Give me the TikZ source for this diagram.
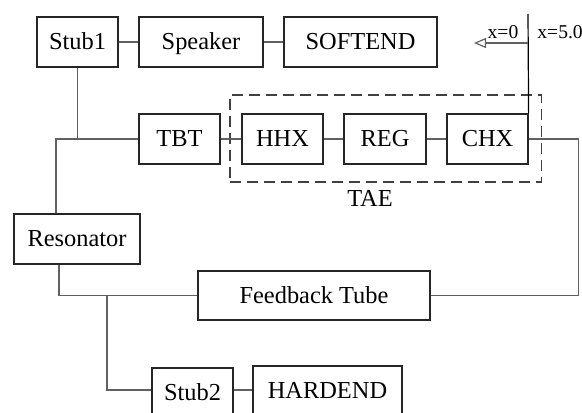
\documentclass[tikz,border=0pt]{standalone}
\usepackage{fontspec}
\setmainfont{Liberation Serif}
\usetikzlibrary{arrows.meta}
\tikzset{
  box/.style={draw=black!85, line width=0.6pt, rectangle, inner sep=0pt,
    minimum height=25pt, text height=7.9pt, text depth=0pt, font=\fontsize{12.2}{14}\selectfont},
  conn/.style={draw=black!62, line width=0.6pt},
  taebox/.style={draw=black!75, line width=0.6pt, dash pattern=on 5.5pt off 3pt, rectangle, inner sep=0pt},
  lbl/.style={font=\fontsize{12.2}{14}\selectfont, inner sep=0pt},
  small/.style={font=\fontsize{9.8}{11}\selectfont, inner sep=0pt}
}
\begin{document}
\begin{tikzpicture}[x=0.5pt,y=-0.5pt]
\useasboundingbox (0,0) rectangle (582,412);
\clip (0,0) rectangle (582,412);
% boxes
\node[box, minimum width=40.5pt] (stub1) at (77.5,42) {Stub1};
\node[box, minimum width=62pt] (speaker) at (201,42) {Speaker};
\node[box, minimum width=76.5pt] (softend) at (360.5,42) {SOFTEND};
\node[taebox, minimum width=155.85pt, minimum height=43.5pt] (tae) at (385.85,138.5) {};
\node[lbl] (taelbl) at (370,198) {TAE};
\node[box, minimum width=40.5pt] (tbt) at (179.5,139) {TBT};
\node[box, minimum width=40.5pt] (hhx) at (282.5,139) {HHX};
\node[box, minimum width=41pt] (reg) at (385,139) {REG};
\node[box, minimum width=40.5pt] (chx) at (487.5,139) {CHX};
\node[box, minimum width=63pt] (res) at (77,239) {Resonator};
\node[box, minimum width=116pt, minimum height=24.5pt] (fb) at (314,295.5) {Feedback Tube\hspace{18pt}};
\node[box, minimum width=40.5pt] (stub2) at (192.5,393) {Stub2};
\node[box, minimum width=74.5pt] (hard) at (327.5,391) {HARDEND};
% coordinate labels
\coordinate (vtop) at (528,14);
\coordinate (a1) at (528,43);
\coordinate (a0) at (474,43);
\node[small] (x0) at (503,32) {x=0};
\node[small, anchor=west] (x5) at (537,32) {x=5.0};
\draw[line width=0.6pt, black] (vtop) -- (chx.north east);
\draw[conn, -{Triangle[open, length=6pt, width=5pt]}] (a1) -- (a0);
% connectors
\draw[conn] (stub1) -- (speaker);
\draw[conn] (speaker) -- (softend);
\draw[conn] (tbt) -- (hhx);
\draw[conn] (hhx) -- (reg);
\draw[conn] (reg) -- (chx);
\draw[conn] (chx.east) -- ++(50,0) |- (fb.east);
\coordinate (j1) at (56,139);
\draw[conn] (tbt.west) -- (j1) -- (j1 |- res.north);
\draw[conn] (stub1.south) -- (stub1.south |- j1);
\draw[conn] ([xshift=-9pt]res.south) |- (fb.west);
\coordinate (j3) at (107,295.5);
\coordinate (s2w) at ([yshift=1.5pt]stub2.west);
\coordinate (s2e) at ([yshift=1.5pt]stub2.east);
\draw[conn] (j3) |- (s2w);
\draw[conn] (s2e) -- (s2e -| hard.west);
\end{tikzpicture}
\end{document}
